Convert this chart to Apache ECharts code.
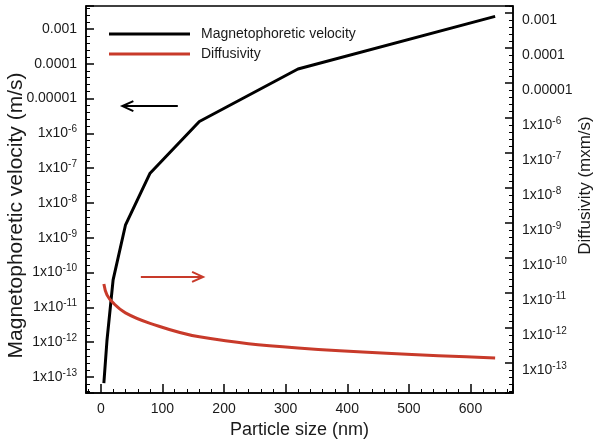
<!DOCTYPE html>
<html><head><meta charset="utf-8">
<script src="https://cdn.jsdelivr.net/npm/echarts@6/dist/echarts.min.js"></script>
<style>html,body{margin:0;padding:0;background:#fff}#c{width:600px;height:444px}</style>
</head><body><div id="c"></div>
<script>
// ---- data ----
const particleSize = [5, 10, 20, 40, 80, 160, 320, 640];            // nm
const magVelocity  = [6.7e-14, 1.1e-12, 6.2e-11, 2.3e-9, 7.2e-8, 2.2e-6, 7.1e-5, 2.3e-3]; // m/s
const diffusivity  = [1.8e-11, 8.8e-12, 5.2e-12, 2.7e-12, 1.36e-12, 5.6e-13, 2.7e-13, 1.4e-13];
const yTickExponents = [-13, -12, -11, -10, -9, -8, -7, -6, -5, -4, -3];
const yTickLabels = ['1x10^-13','1x10^-12','1x10^-11','1x10^-10','1x10^-9','1x10^-8','1x10^-7','1x10^-6','0.00001','0.0001','0.001'];
const leftRange  = [3.47e-14, 4.58e-3];
const rightRange = [1.39e-14, 1.585e-3];
const xRange = [-24, 669];
// annotation arrows: [x0, x1, value on left axis]
const velArrow  = [35, 125, 6.1e-6];
const diffArrow = [65, 166, 7.5e-11];

const FONT = 'Liberation Sans, Arial, Helvetica, sans-serif';
const TXT = '#1a1a1a';
const RED = '#c83a2a';

function fmt(v) {
  const e = Math.round(v);
  if (Math.abs(v - e) > 1e-6) return '';
  const i = yTickExponents.indexOf(e);
  if (i < 0) return '';
  const t = yTickLabels[i];
  if (t.indexOf('^') >= 0) {
    const p = t.split('^');
    return '{b|' + p[0] + '}{s|' + p[1] + '}';
  }
  return '{b|' + t + '}';
}
const richLeft = {
  b: {fontSize: 14, fontFamily: FONT, color: TXT},
  s: {fontSize: 10, fontFamily: FONT, color: TXT, padding: [0, 0, 8, 0]}
};
const richRight = {
  b: {fontSize: 14, fontFamily: FONT, color: TXT, padding: [14, 0, 0, 0]},
  s: {fontSize: 10, fontFamily: FONT, color: TXT, padding: [14, 0, 8, 0]}
};
function yAxisCfg(pos, range, name, namePad, nameGap, nameSize, rich) {
  return {
    type: 'value', position: pos,
    min: Math.log10(range[0]), max: Math.log10(range[1]),
    splitNumber: 11,
    name: name, nameLocation: 'middle', nameRotate: 90, nameGap: nameGap, nameMoveOverlap: false,
    nameTextStyle: {fontSize: nameSize, fontFamily: FONT, color: TXT, padding: namePad},
    axisLine: {show: true, onZero: false, lineStyle: {color: '#000', width: 1.5}},
    axisTick: {show: true, inside: true, length: 8, lineStyle: {color: '#000', width: 1.5}},
    minorTick: {show: true, splitNumber: 5, length: 4, lineStyle: {color: '#000', width: 1}},
    splitLine: {show: false},
    axisLabel: {formatter: fmt, rich: rich, margin: 9, showMinLabel: false, showMaxLabel: false}
  };
}

const chart = echarts.init(document.getElementById('c'), null, {renderer: 'canvas'});
chart.setOption({
  animation: false,
  backgroundColor: '#fff',
  grid: {left: 86, right: 87, top: 6, bottom: 51, show: true, borderColor: '#000', borderWidth: 1.5,
         containLabel: false, outerBoundsMode: 'none'},
  legend: {
    orient: 'vertical', left: 104, top: 21, icon: 'rect', itemWidth: 81, itemHeight: 3, itemGap: 4,
    textStyle: {fontSize: 14, fontFamily: FONT, color: TXT, padding: [0, 0, 0, 6], lineHeight: 16},
    data: ['Magnetophoretic velocity', 'Diffusivity']
  },
  xAxis: {
    type: 'value', min: xRange[0], max: xRange[1], splitNumber: 7,
    name: 'Particle size (nm)', nameLocation: 'middle', nameGap: 28, nameMoveOverlap: false,
    nameTextStyle: {fontSize: 18, fontFamily: FONT, color: TXT},
    axisLine: {show: true, onZero: false, lineStyle: {color: '#000', width: 1.5}},
    axisTick: {show: true, inside: true, length: 9, lineStyle: {color: '#000', width: 1.5}},
    minorTick: {show: true, splitNumber: 5, length: 4, lineStyle: {color: '#000', width: 1}},
    splitLine: {show: false},
    axisLabel: {fontSize: 14, fontFamily: FONT, color: TXT, margin: 9, showMinLabel: false, showMaxLabel: false}
  },
  yAxis: [
    yAxisCfg('left', leftRange, 'Magnetophoretic velocity (m/s)', [0, 32, 0, 0], 59, 21, richLeft),
    yAxisCfg('right', rightRange, 'Diffusivity (mxm/s)', [0, 0, 0, 28], 64, 17, richRight)
  ],
  series: [
    {
      name: 'Magnetophoretic velocity', type: 'line', yAxisIndex: 0, symbol: 'none',
      lineStyle: {color: '#000', width: 3}, itemStyle: {color: '#000'},
      data: particleSize.map((x, i) => [x, Math.log10(magVelocity[i])])
    },
    {
      name: 'Diffusivity', type: 'line', yAxisIndex: 1, symbol: 'none', smooth: 0.4,
      lineStyle: {color: RED, width: 3}, itemStyle: {color: RED},
      data: particleSize.map((x, i) => [x, Math.log10(diffusivity[i])])
    }
  ]
});

function arrow(spec, color, headLeft) {
  const a = chart.convertToPixel({xAxisIndex: 0, yAxisIndex: 0}, [spec[0], Math.log10(spec[2])]);
  const b = chart.convertToPixel({xAxisIndex: 0, yAxisIndex: 0}, [spec[1], Math.log10(spec[2])]);
  const tip = headLeft ? a : b;
  const d = headLeft ? 11 : -11;
  return [
    {type: 'polyline', shape: {points: [a, b]}, style: {stroke: color, lineWidth: 2, fill: null}, z: 10},
    {type: 'polyline', shape: {points: [[tip[0] + d, tip[1] - 5], tip, [tip[0] + d, tip[1] + 5]]},
     style: {stroke: color, lineWidth: 2, fill: null}, z: 10}
  ];
}
chart.setOption({graphic: [].concat(arrow(velArrow, '#000', true), arrow(diffArrow, RED, false))});
</script></body></html>
